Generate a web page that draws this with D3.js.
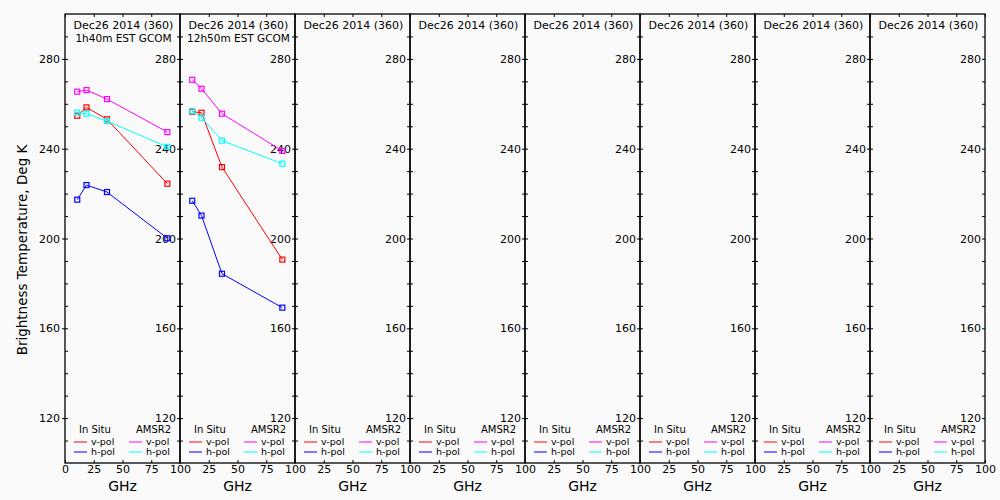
<!DOCTYPE html>
<html>
<head>
<meta charset="utf-8">
<script src="https://cdn.jsdelivr.net/npm/d3@7"></script>
<style>
  body { margin: 0; background: #fafafa; }
  svg { display: block; }
  text { font-family: 'DejaVu Sans', sans-serif; fill: #000; }
  .tick text { font-size: 11px; }
</style>
</head>
<body>
<div id="chart"></div>
<script>
// GHz channels
const freqs = [10.65, 18.7, 36.5, 89]

const titleLine1 = 'Dec26 2014 (360)'
const titleLine2 = ['1h40m EST GCOM', '12h50m EST GCOM', '', '', '', '', '', '']

// panel 1
const insituV1 = [254.7, 258.4, 253.1, 224.4]
const insituH1 = [217.3, 223.8, 220.7, 200.1]
const amsrV1 = [265.4, 266.1, 262.1, 247.4]
const amsrH1 = [256.0, 255.6, 252.3, 240.8]

// panel 2
const insituV2 = [256.5, 256.0, 231.8, 190.6]
const insituH2 = [216.8, 210.2, 184.3, 169.2]
const amsrV2 = [270.7, 266.7, 255.6, 239.0]
const amsrH2 = [256.8, 253.8, 243.6, 233.3]

const xTicks = [0, 25, 50, 75, 100]
const yTicks = [110, 120, 130, 140, 150, 160, 170, 180, 190, 200, 210, 220, 230, 240, 250, 260, 270, 280, 290]
const yLabels = [120, 160, 200, 240, 280]

const panels = [
    [
        { vals: insituV1, color: '#ff0000' },
        { vals: insituH1, color: '#0000ff' },
        { vals: amsrV1, color: '#ff00ff' },
        { vals: amsrH1, color: '#00ffff' }
    ],
    [
        { vals: insituV2, color: '#ff0000' },
        { vals: insituH2, color: '#0000ff' },
        { vals: amsrV2, color: '#ff00ff' },
        { vals: amsrH2, color: '#00ffff' }
    ],
    [], [], [], [], [], []
]

const width = 1000
const height = 500
const plotLeft = 65
const plotTop = 14
const plotBottom = 463
const panelWidth = 115

const svg = d3.select('#chart')
    .append('svg')
    .attr('width', width)
    .attr('height', height)

svg.append('rect')
    .attr('width', width)
    .attr('height', height)
    .attr('fill', '#fafafa')

const yScale = d3.scaleLinear()
    .domain([100, 300])
    .range([plotBottom, plotTop])

svg.append('text')
    .attr('transform', `translate(27, 250) rotate(-90)`)
    .attr('text-anchor', 'middle')
    .style('font-size', '13.5px')
    .text('Brightness Temperature, Deg K')

panels.forEach((series, p) => {
    const x0 = plotLeft + p * panelWidth
    const xScale = d3.scaleLinear()
        .domain([0, 100])
        .range([x0, x0 + panelWidth])

    const g = svg.append('g').attr('class', 'panel')

    // bottom axis with labels
    const xAxis = d3.axisBottom(xScale)
        .tickValues(p === 0 ? xTicks : xTicks.slice(1))
        .tickFormat(d3.format('d'))
        .tickSizeInner(-3)
        .tickSizeOuter(0)
        .tickPadding(2)
    g.append('g')
        .attr('transform', `translate(0, ${plotBottom})`)
        .call(xAxis)
        .call(a => a.select('.domain').remove())

    // top ticks
    g.append('g')
        .attr('transform', `translate(0, ${plotTop})`)
        .call(d3.axisTop(xScale).tickValues(xTicks).tickSizeInner(-3).tickSizeOuter(0).tickFormat(''))
        .call(a => a.select('.domain').remove())

    // right axis: ticks inside, labels inside
    const rightAxis = d3.axisLeft(yScale)
        .tickValues(yTicks)
        .tickSizeInner(3)
        .tickSizeOuter(0)
        .tickPadding(1)
        .tickFormat(d => yLabels.includes(d) ? d : '')
    g.append('g')
        .attr('transform', `translate(${x0 + panelWidth}, 0)`)
        .call(rightAxis)
        .call(a => a.select('.domain').remove())

    // left side ticks inside
    g.append('g')
        .attr('transform', `translate(${x0}, 0)`)
        .call(d3.axisRight(yScale).tickValues(yTicks).tickSizeInner(3).tickSizeOuter(0).tickFormat(''))
        .call(a => a.select('.domain').remove())

    if (p === 0) {
        g.append('g')
            .attr('transform', `translate(${x0}, 0)`)
            .call(d3.axisLeft(yScale).tickValues(yLabels).tickSizeInner(3).tickSizeOuter(0).tickPadding(2))
            .call(a => a.select('.domain').remove())
    }

    g.append('rect')
        .attr('x', x0)
        .attr('y', plotTop)
        .attr('width', panelWidth)
        .attr('height', plotBottom - plotTop)
        .attr('fill', 'none')
        .attr('stroke', '#000')
        .attr('stroke-width', 1.3)

    // titles
    g.append('text')
        .attr('x', x0 + panelWidth / 2 + 1)
        .attr('y', 29)
        .attr('text-anchor', 'middle')
        .style('font-size', '11px')
        .text(titleLine1)
    if (titleLine2[p]) {
        g.append('text')
            .attr('x', x0 + panelWidth / 2 + 1)
            .attr('y', 42)
            .attr('text-anchor', 'middle')
            .style('font-size', '10.5px')
            .text(titleLine2[p])
    }

    // legend
    g.append('text').attr('x', x0 + 14).attr('y', 433).style('font-size', '10px').text('In Situ')
    g.append('text').attr('x', x0 + 71).attr('y', 433).style('font-size', '10px').text('AMSR2')
    const legendRows = [
        { dx: 9, y: 442, color: '#ff0000', label: 'v-pol' },
        { dx: 9, y: 452, color: '#0000ff', label: 'h-pol' },
        { dx: 64, y: 442, color: '#ff00ff', label: 'v-pol' },
        { dx: 64, y: 452, color: '#00ffff', label: 'h-pol' }
    ]
    legendRows.forEach(r => {
        g.append('line')
            .attr('x1', x0 + r.dx)
            .attr('x2', x0 + r.dx + 13)
            .attr('y1', r.y)
            .attr('y2', r.y)
            .attr('stroke', r.color)
            .attr('stroke-width', 1)
        g.append('text')
            .attr('x', x0 + r.dx + 17)
            .attr('y', r.y + 3)
            .style('font-size', '9.5px')
            .text(r.label)
    })

    // data
    const line = d3.line()
        .x((d, i) => xScale(freqs[i]))
        .y(d => yScale(d))

    series.forEach(s => {
        g.append('path')
            .datum(s.vals)
            .attr('d', line)
            .attr('fill', 'none')
            .attr('stroke', s.color)
            .attr('stroke-width', 1)
        g.selectAll(null)
            .data(s.vals)
            .enter()
            .append('rect')
            .attr('x', (d, i) => xScale(freqs[i]) - 2.5)
            .attr('y', d => yScale(d) - 2.5)
            .attr('width', 5)
            .attr('height', 5)
            .attr('fill', 'none')
            .attr('stroke', s.color)
            .attr('stroke-width', 1.2)
    })

    g.append('text')
        .attr('x', x0 + panelWidth / 2)
        .attr('y', 491)
        .attr('text-anchor', 'middle')
        .style('font-size', '14px')
        .text('GHz')
})
</script>
</body>
</html>
